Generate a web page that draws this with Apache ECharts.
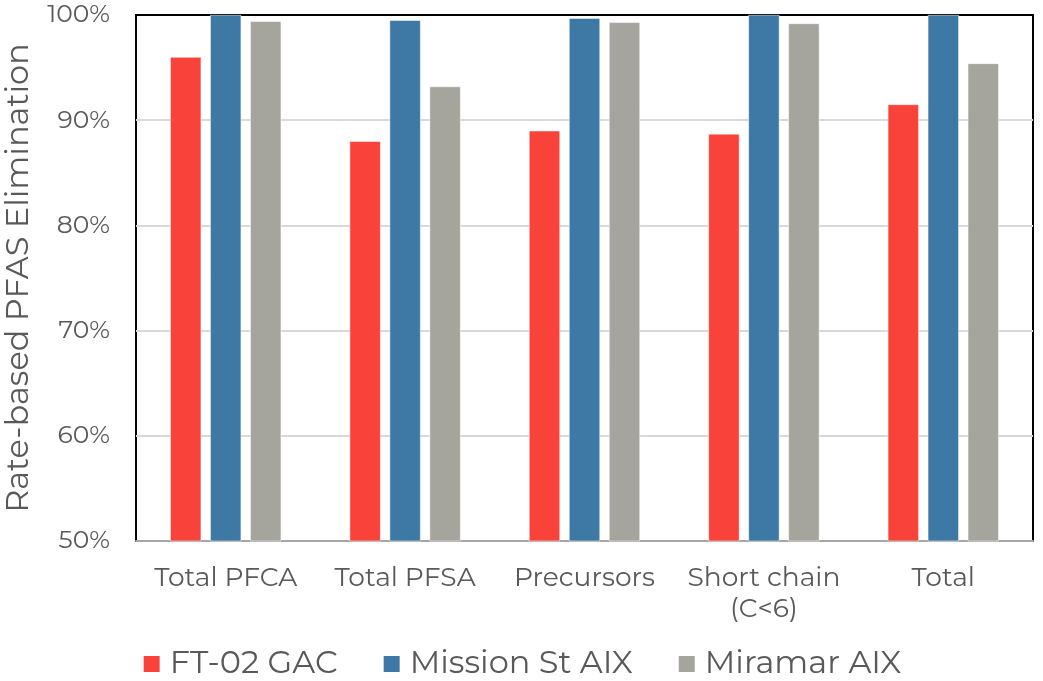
<!DOCTYPE html>
<html>
<head>
<meta charset="utf-8">
<script src="https://cdn.jsdelivr.net/npm/echarts@6/dist/echarts.min.js"></script>
<style>
  html, body { margin: 0; padding: 0; background: #fff; }
  #chart { width: 1043px; height: 681px; }
</style>
</head>
<body>
<div id="chart"></div>
<script>
// categories and series values (percent)
var categories = ['Total PFCA', 'Total PFSA', 'Precursors', 'Short chain\n(C<6)', 'Total']
var gacValues = [96.0, 88.0, 89.0, 88.7, 91.5]
var missionValues = [100, 99.5, 99.7, 100, 100]
var miramarValues = [99.4, 93.2, 99.3, 99.2, 95.4]
var seriesNames = ['FT-02 GAC', 'Mission St AIX', 'Miramar AIX']
var colors = ['#F9423A', '#3E78A5', '#A5A59D']

var font = 'Montserrat, "Open Sans", "DejaVu Sans", sans-serif'
var textColor = '#595959'

var chart = echarts.init(document.getElementById('chart'))

function bar(name, data) {
  return {
    name: name,
    type: 'bar',
    data: data,
    barWidth: 31,
    barGap: '29%',
    itemStyle: { borderColor: '#fff', borderWidth: 0.5 }
  }
}

chart.setOption({
  backgroundColor: '#fff',
  color: colors,
  animation: false,
  grid: {
    left: 136,
    right: 10,
    top: 15,
    bottom: 140,
    outerBoundsMode: 'none',
    show: true,
    borderColor: '#000',
    borderWidth: 2
  },
  legend: {
    bottom: -4,
    left: 'center',
    itemWidth: 18,
    itemHeight: 18,
    itemGap: 44,
    icon: 'rect',
    textStyle: { color: textColor, fontSize: 32, fontFamily: font, padding: [0, 0, 0, 4] },
    data: seriesNames
  },
  xAxis: {
    type: 'category',
    data: categories,
    axisLine: { lineStyle: { color: '#A6A6A6', width: 2 } },
    axisTick: { show: false },
    axisLabel: {
      interval: 0,
      color: textColor,
      fontSize: 26.5,
      fontFamily: font,
      margin: 22,
      lineHeight: 31
    }
  },
  yAxis: {
    type: 'value',
    min: 50,
    max: 100,
    interval: 10,
    name: 'Rate-based PFAS Elimination',
    nameLocation: 'middle',
    nameGap: 101,
    nameTextStyle: { color: textColor, fontSize: 32, fontFamily: font },
    axisLine: { show: false },
    axisTick: { show: false },
    splitLine: { showMinLine: false, showMaxLine: false, lineStyle: { color: '#D9D9D9', width: 2 } },
    axisLabel: {
      color: textColor,
      fontSize: 25,
      fontFamily: font,
      margin: 26,
      formatter: '{value}%'
    }
  },
  series: [
    bar(seriesNames[0], gacValues),
    bar(seriesNames[1], missionValues),
    bar(seriesNames[2], miramarValues)
  ]
})
</script>
</body>
</html>
